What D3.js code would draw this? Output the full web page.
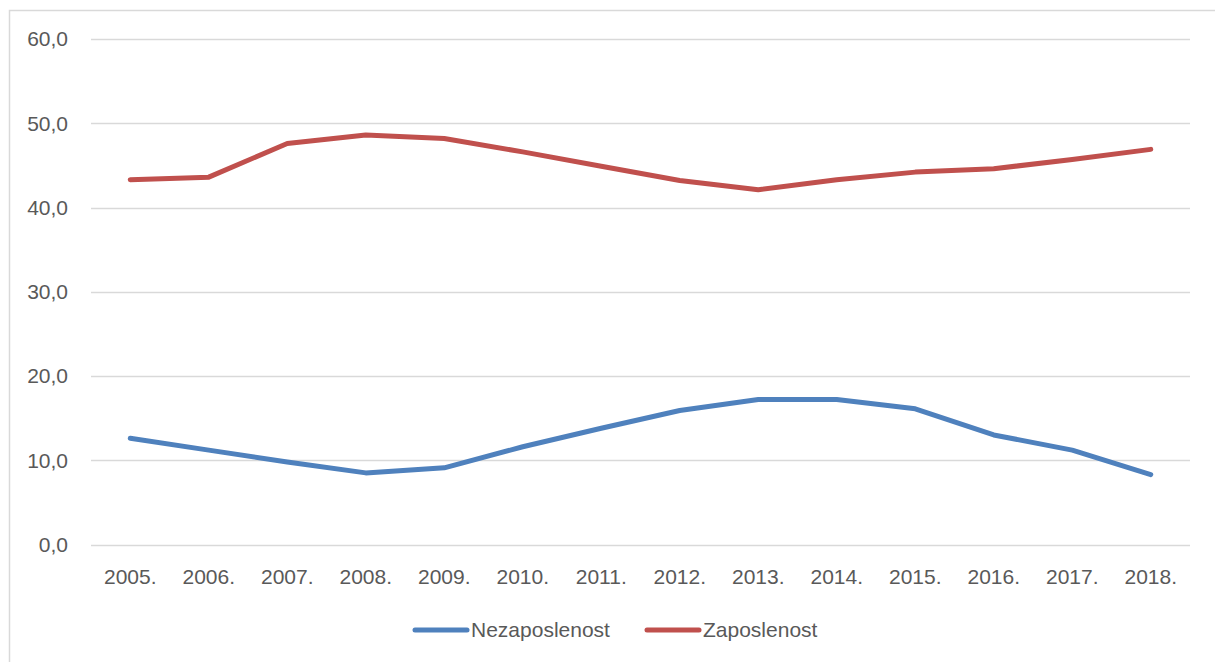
<!DOCTYPE html>
<html>
<head>
<meta charset="utf-8">
<script src="https://cdn.jsdelivr.net/npm/d3@7"></script>
<style>
  body { margin: 0; background: #fff; }
  text { font-family: "Liberation Sans", Arial, sans-serif; fill: #595959; }
</style>
</head>
<body>
<script>
//Data
var years = ["2005.", "2006.", "2007.", "2008.", "2009.", "2010.", "2011.",
             "2012.", "2013.", "2014.", "2015.", "2016.", "2017.", "2018."];
var nezaposlenost = [12.6, 11.2, 9.8, 8.5, 9.1, 11.6, 13.8, 15.9, 17.2, 17.2, 16.1, 13.0, 11.2, 8.3];
var zaposlenost = [43.3, 43.6, 47.6, 48.6, 48.2, 46.6, 44.9, 43.2, 42.1, 43.3, 44.2, 44.6, 45.7, 46.9];
var yTicks = [0, 10, 20, 30, 40, 50, 60];
var seriesNames = ["Nezaposlenost", "Zaposlenost"];
var seriesColors = ["#4f81bd", "#c0504d"];

//Width and height
var w = 1215;
var h = 662;
var fontSize = 21;

var svg = d3.select("body")
      .append("svg")
      .attr("width", w)
      .attr("height", h);

//Chart border
svg.append("rect")
  .attr("x", 9.5).attr("y", 10.5)
  .attr("width", 1230).attr("height", 700)
  .attr("fill", "none")
  .attr("stroke", "#d9d9d9")
  .attr("stroke-width", 1.5);

//Scales
var xScale = d3.scaleBand()
      .domain(years)
      .range([91, 1190]);

var yScale = d3.scaleLinear()
      .domain([0, 60])
      .range([544.5, 39]);

//Gridlines
svg.append("g")
  .selectAll("line")
  .data(yTicks)
  .join("line")
  .attr("x1", 91).attr("x2", 1190)
  .attr("y1", function(d) { return Math.round(yScale(d)) + 0.5; })
  .attr("y2", function(d) { return Math.round(yScale(d)) + 0.5; })
  .attr("stroke", "#d9d9d9")
  .attr("stroke-width", 1.5);

//Y labels
var fmt = function(d) { return d3.format(".1f")(d).replace(".", ","); };
svg.append("g")
  .selectAll("text")
  .data(yTicks)
  .join("text")
  .attr("x", 68)
  .attr("y", function(d) { return yScale(d); })
  .attr("dy", "0.35em")
  .attr("text-anchor", "end")
  .attr("font-size", fontSize)
  .text(fmt);

//X labels
svg.append("g")
  .selectAll("text")
  .data(years)
  .join("text")
  .attr("x", function(d) { return xScale(d) + xScale.bandwidth() / 2; })
  .attr("y", 577)
  .attr("dy", "0.35em")
  .attr("text-anchor", "middle")
  .attr("font-size", fontSize)
  .text(function(d) { return d; });

//Lines
var line = d3.line()
      .x(function(d, i) { return xScale(years[i]) + xScale.bandwidth() / 2; })
      .y(function(d) { return yScale(d); });

[nezaposlenost, zaposlenost].forEach(function(s, i) {
  svg.append("path")
    .datum(s)
    .attr("d", line)
    .attr("fill", "none")
    .attr("stroke", seriesColors[i])
    .attr("stroke-width", 5)
    .attr("stroke-linecap", "round")
    .attr("stroke-linejoin", "round");
});

//Legend
var legendX = [413, 645];
seriesNames.forEach(function(name, i) {
  var g = svg.append("g").attr("transform", "translate(" + legendX[i] + ",630)");
  g.append("line")
    .attr("x1", 2).attr("x2", 54)
    .attr("stroke", seriesColors[i])
    .attr("stroke-width", 5)
    .attr("stroke-linecap", "round");
  g.append("text")
    .attr("x", 58)
    .attr("dy", "0.35em")
    .attr("font-size", fontSize)
    .text(name);
});
</script>
</body>
</html>
